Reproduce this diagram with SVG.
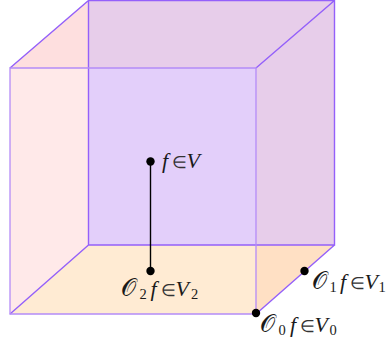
<svg xmlns="http://www.w3.org/2000/svg" width="386" height="347" viewBox="0 0 386 347">
<style>
.t{font-family:"Liberation Serif","Times New Roman",serif;font-size:22px;fill:#1a1a1a}
.i{font-style:italic}
.s{font-size:14.5px}
.m{font-size:17px;fill:#333}
.c{font-family:"DejaVu Sans","Noto Sans",serif;font-size:24px}
.e{stroke:#9460fa;fill:none;stroke-width:1.4}
.f{stroke:#b48cf8;fill:none;stroke-width:1.3}
.d{fill:#000}
</style>
<g id="faces">
<rect x="88.5" y="0.5" width="246" height="244.5" fill="#e3cffa"/>
<polygon points="10,68 88.5,0.5 88.5,245 10,314" fill="#ffe9e9"/>
<polygon points="10,68 88.5,0.5 88.5,68" fill="#fedfdf"/>
<polygon points="88.5,0.5 334.5,0.5 256,68 88.5,68" fill="#e7cdea"/>
<polygon points="256,68 334.5,0.5 334.5,245 256,245" fill="#e7cdea"/>
<polygon points="10,314 88.5,245 256,245 256,314" fill="#ffebd3"/>
<polygon points="256,245 334.5,245 256,314" fill="#ffe0c4"/>
</g>
<g id="edges">
<path class="e" d="M88.5 .5H334.5V245H88.5ZM10 68L88.5 .5M256 68L334.5 .5M10 314L88.5 245M256 314L334.5 245"/>
<path class="f" d="M10 68H256V314H10Z"/>
</g>
<g id="connectors">
<line x1="150.5" y1="161.5" x2="150.5" y2="271" stroke="#000" stroke-width="1.4"/>
</g>
<g id="node-f">
<circle class="d" cx="150.5" cy="161.5" r="4.2"/>
<text class="t" y="168"><tspan class="i" x="162">f</tspan><tspan class="m" x="172">∈</tspan><tspan class="i" x="186.5">V</tspan></text>
</g>
<g id="node-o2">
<circle class="d" cx="150.5" cy="271" r="4.2"/>
<text class="t" y="296"><tspan class="c" x="121">𝒪</tspan><tspan class="s" x="139.5" dy="3">2</tspan><tspan class="i" x="150.5" dy="-3">f</tspan><tspan class="m" x="161">∈</tspan><tspan class="i" x="175.5">V</tspan><tspan class="s" x="191" dy="3">2</tspan></text>
</g>
<g id="node-o1">
<circle class="d" cx="304.5" cy="271" r="4.2"/>
<text class="t" y="289"><tspan class="c" x="312">𝒪</tspan><tspan class="s" x="329.5" dy="3">1</tspan><tspan class="i" x="340" dy="-3">f</tspan><tspan class="m" x="350">∈</tspan><tspan class="i" x="364.5">V</tspan><tspan class="s" x="378.5" dy="3">1</tspan></text>
</g>
<g id="node-o0">
<circle class="d" cx="256" cy="313" r="4.2"/>
<text class="t" y="332"><tspan class="c" x="260">𝒪</tspan><tspan class="s" x="278.5" dy="3">0</tspan><tspan class="i" x="290" dy="-3">f</tspan><tspan class="m" x="300">∈</tspan><tspan class="i" x="314.5">V</tspan><tspan class="s" x="329.5" dy="3">0</tspan></text>
</g>
</svg>
